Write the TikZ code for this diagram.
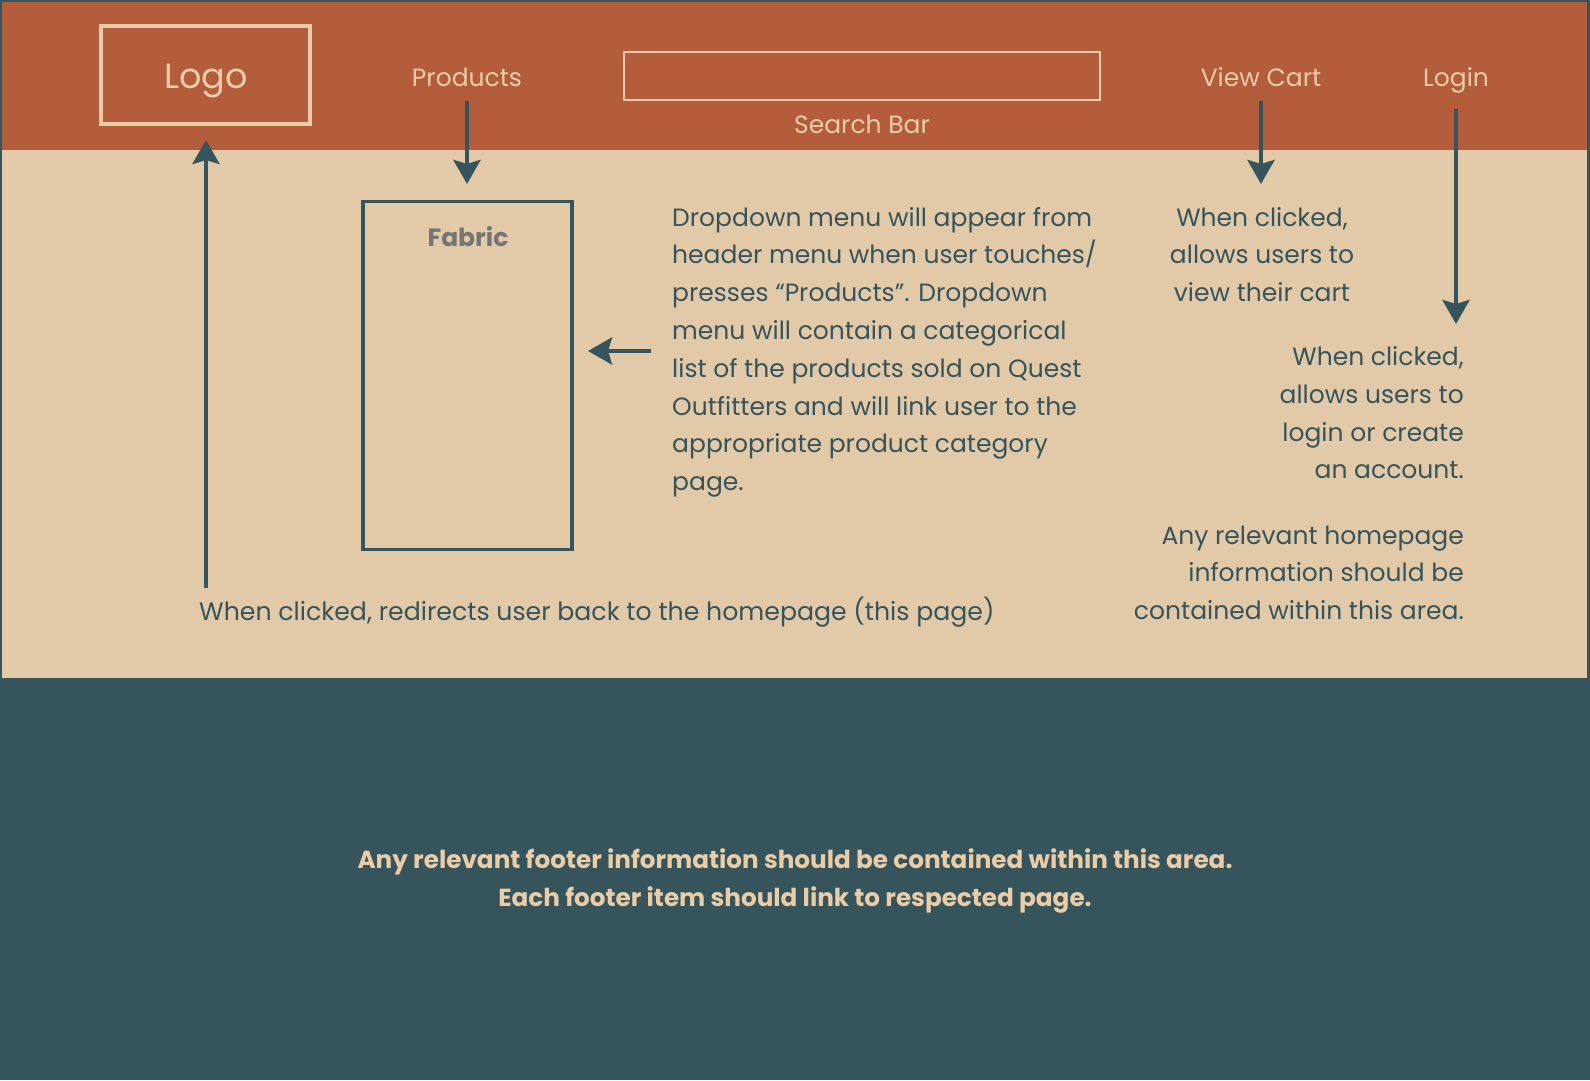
\documentclass[tikz,border=0pt]{standalone}
\usepackage{fontspec}
\setmainfont{Poppins}
\usetikzlibrary{arrows.meta}
\definecolor{rust}{HTML}{B45D3C}
\definecolor{sand}{HTML}{E2C9A7}
\definecolor{deepteal}{HTML}{36545B}
\definecolor{cream}{HTML}{EACDA6}
\definecolor{fabricgray}{HTML}{747474}
\newcommand\toplines[2][l]{{\begin{tabular}[t]{@{}#1@{}}#2\end{tabular}}}
\begin{document}
\begin{tikzpicture}[x=1pt,y=-1pt,
  hdrtext/.style={text=cream, font=\fontsize{25}{30}\selectfont, inner sep=0pt, anchor=base},
  bodytext/.style={text=deepteal, font=\fontsize{25}{37.8}\selectfont, inner sep=0pt},
  foottext/.style={text=cream, font=\bfseries\fontsize{24.7}{38}\selectfont, inner sep=0pt},
  arr/.style={draw=deepteal, line width=4.5pt, -{Stealth[length=24pt, width=27pt, inset=4pt]}},
]
\useasboundingbox (0,0) rectangle (1590,1080);
% backgrounds
\fill[deepteal] (0,0) rectangle (1590,1080);
\fill[sand] (2,150) rectangle (1587,678);
\fill[rust] (2,2) rectangle (1587,150);

% header items
\node[draw=cream, line width=3.5pt, minimum width=209pt, minimum height=98pt, inner sep=0pt] (logobox) at (205.5,75) {};
\node[hdrtext, font=\fontsize{35}{40}\selectfont] (logo) at (206,88) {Logo};
\node[hdrtext] (products) at (467,86) {Products};
\node[draw=cream, line width=2pt, minimum width=476pt, minimum height=48pt, inner sep=0pt] (search) at (862,76) {};
\node[hdrtext] (searchlbl) at (862,133) {Search Bar};
\node[hdrtext] (viewcart) at (1261,86) {View Cart};
\node[hdrtext] (login) at (1456,86) {Login};

% dropdown box
\node[draw=deepteal, line width=3.8pt, minimum width=209pt, minimum height=348pt, inner sep=0pt] (dropbox) at (467.5,375.5) {};
\node[text=fabricgray, font=\bfseries\fontsize{25}{30}\selectfont, inner sep=0pt, anchor=base] (fabric) at (468,246) {Fabric};

% body texts
\node[bodytext, anchor=base west] (droptext) at (672,226) {\toplines{Dropdown menu will appear from\\header menu when user touches/\\presses “Products”. Dropdown\\menu will contain a categorical\\list of the products sold on Quest\\Outfitters and will link user to the\\appropriate product category\\page.}};
\node[bodytext, anchor=base] (carttext) at (1262,226) {\toplines[c]{When clicked,\\allows users to\\view their cart}};
\node[bodytext, anchor=base east] (logintext) at (1464,365.5) {\toplines[r]{When clicked,\\allows users to\\login or create\\an account.}};
\node[bodytext, anchor=base east] (hometext) at (1464,544) {\toplines[r]{Any relevant homepage\\information should be\\contained within this area.}};
\node[bodytext, font=\fontsize{25.2}{30}\selectfont, anchor=base west] (logotext) at (199,620) {When clicked, redirects user back to the homepage (this page)};

% footer
\node[foottext, anchor=base] (foot) at (795,868) {\toplines[c]{Any relevant footer information should be contained within this area.\\Each footer item should link to respected page.}};

% arrows
\coordinate (logoA) at (206,588);
\coordinate (logoB) at (206,140);
\coordinate (prodA) at (467,101);
\coordinate (prodB) at (467,184);
\coordinate (dropA) at (651,351);
\coordinate (dropB) at (588,351);
\coordinate (cartA) at (1261,101);
\coordinate (cartB) at (1261,184);
\coordinate (loginA) at (1456,109);
\coordinate (loginB) at (1456,324);
\draw[arr] (logoA) -- (logoB);
\draw[arr] (prodA) -- (prodB);
\draw[arr] (dropA) -- (dropB);
\draw[arr] (cartA) -- (cartB);
\draw[arr] (loginA) -- (loginB);
\end{tikzpicture}
\end{document}
